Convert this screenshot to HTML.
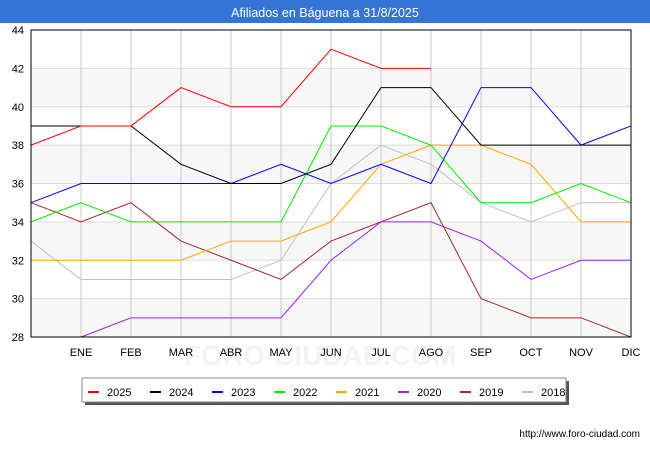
<!DOCTYPE html>
<html><head><meta charset="utf-8"><style>
body{margin:0;background:#fff;font-family:"Liberation Sans","DejaVu Sans",sans-serif;}
</style></head><body>
<svg width="650" height="450" xmlns="http://www.w3.org/2000/svg">
<rect x="0" y="0" width="650" height="23" fill="#3474d4"/>
<text x="325" y="17" text-anchor="middle" fill="#fff" font-size="12.5">Afiliados en Báguena a 31/8/2025</text>
<g id="bands"></g>
<g id="grid"></g>
<text x="320" y="365" text-anchor="middle" font-size="28" fill="#f3f3f3" font-weight="bold">FORO-CIUDAD.COM</text>
<g id="lines"></g>
<rect x="31" y="30" width="600" height="307" fill="none" stroke="#000" stroke-width="1"/>
<g id="ticks" font-size="11" fill="#000"></g>
<rect x="85" y="381" width="484" height="24" fill="#555"/>
<rect x="82" y="378" width="484" height="24" fill="#fff" stroke="#888"/>
<g id="legend" font-size="11"></g>
<text x="640" y="437" text-anchor="end" font-size="10" fill="#000">http://www.foro-ciudad.com</text>
</svg>
<script>
const categories=["","ENE","FEB","MAR","ABR","MAY","JUN","JUL","AGO","SEP","OCT","NOV","DIC"];
const yTicks=[28,30,32,34,36,38,40,42,44];
const seriesNames=["2025","2024","2023","2022","2021","2020","2019","2018"];
const seriesColors=["#ff0000","#000000","#0000ff","#00ee00","#ffa500","#a020f0","#a52a2a","#c0c0c0"];
const s2025=[38,39,39,41,40,40,43,42,42,null,null,null,null];
const s2024=[39,39,39,37,36,36,37,41,41,38,38,38,38];
const s2023=[35,36,36,36,36,37,36,37,36,41,41,38,39];
const s2022=[34,35,34,34,34,34,39,39,38,35,35,36,35];
const s2021=[32,32,32,32,33,33,34,37,38,38,37,34,34];
const s2020=[null,28,29,29,29,29,32,34,34,33,31,32,32];
const s2019=[35,34,35,33,32,31,33,34,35,30,29,29,28];
const s2018=[33,31,31,31,31,32,36,38,37,35,34,35,35];
const allSeries=[s2025,s2024,s2023,s2022,s2021,s2020,s2019,s2018];
const NS="http://www.w3.org/2000/svg";
const X0=31,X1=631,Y0=337,Y1=30,YMIN=28,YMAX=44;
const xs=i=>X0+i*(X1-X0)/(categories.length-1);
const ys=v=>Y0-(v-YMIN)*(Y0-Y1)/(YMAX-YMIN);
function mk(t,a,p){const e=document.createElementNS(NS,t);for(const k in a)e.setAttribute(k,a[k]);p.appendChild(e);return e;}
const bands=document.getElementById('bands'),grid=document.getElementById('grid'),lines=document.getElementById('lines'),ticks=document.getElementById('ticks'),legend=document.getElementById('legend');
for(let i=0;i<yTicks.length-1;i+=2){
  const r=mk('rect',{x:X0,y:ys(yTicks[i+1]),width:X1-X0,height:ys(yTicks[i])-ys(yTicks[i+1]),fill:'#f7f7f7'},bands);
  
  
}
yTicks.forEach(v=>{
  const l=mk('line',{x1:X0,x2:X1,y1:ys(v),y2:ys(v),stroke:'#dddddd'},grid);
  
  
  const t=mk('text',{x:X0-7,y:ys(v)+4,'text-anchor':'end'},ticks);t.textContent=v;
  
  
});
categories.forEach((c,i)=>{
  if(i>0){const l=mk('line',{x1:xs(i),x2:xs(i),y1:Y1,y2:Y0,stroke:'#c8c8c8'},grid);
  
  }
  if(c){const t=mk('text',{x:xs(i),y:356,'text-anchor':'middle'},ticks);t.textContent=c;
  
  }
});
for(let s=allSeries.length-1;s>=0;s--){
  const d=allSeries[s];let path='';let pen=false;
  d.forEach((v,i)=>{if(v===null){pen=false;return;}path+=(pen?'L':'M')+xs(i)+' '+ys(v)+' ';pen=true;});
  const p=mk('path',{d:path,fill:'none',stroke:seriesColors[s],'stroke-width':1},lines);
  
  
}
seriesNames.forEach((n,i)=>{
  const x=88+i*62;
  const g=mk('g',{},legend);
  
  
  mk('line',{x1:x,x2:x+11,y1:392,y2:392,stroke:seriesColors[i],'stroke-width':2},g);
  const t=mk('text',{x:x+19,y:396},g);t.textContent=n;
});
</script>
</body></html>
